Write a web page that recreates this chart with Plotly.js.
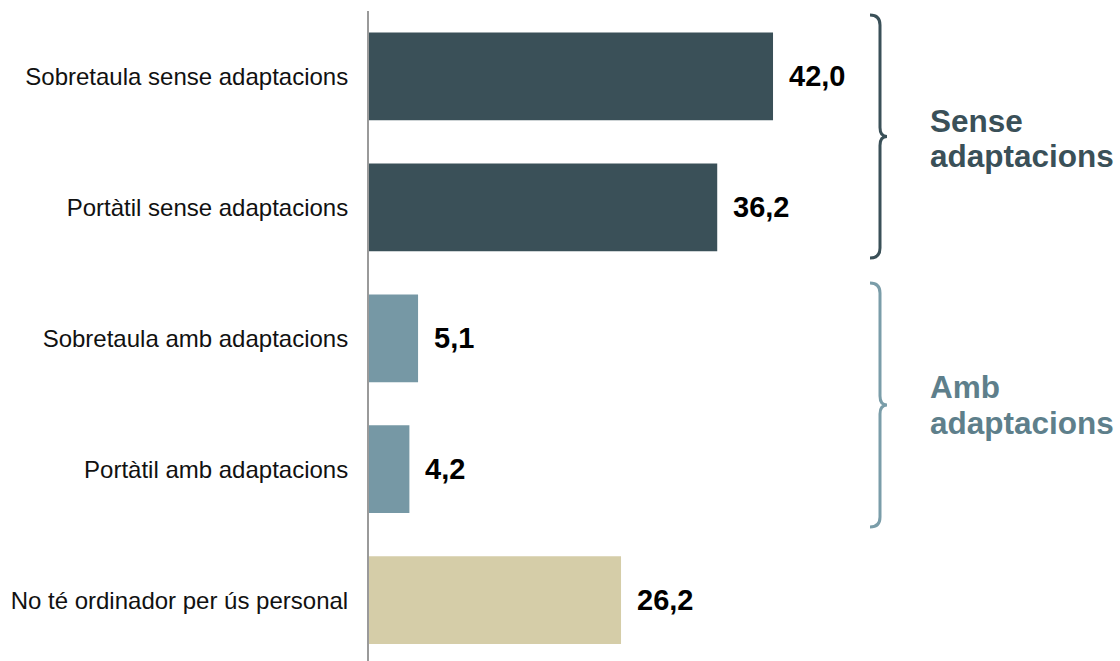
<!DOCTYPE html>
<html>
<head>
<meta charset="utf-8">
<script src="https://cdn.plot.ly/plotly-3.0.1.min.js"></script>
<style>html,body{margin:0;padding:0;background:#fff;}#chart{width:1120px;height:661px;}</style>
</head>
<body>
<div id="chart"></div>
<script>
const categories = [
  "Sobretaula sense adaptacions",
  "Portàtil sense adaptacions",
  "Sobretaula amb adaptacions",
  "Portàtil amb adaptacions",
  "No té ordinador per ús personal"
];
const values = [42.0, 36.2, 5.1, 4.2, 26.2];
const valueLabels = ["42,0", "36,2", "5,1", "4,2", "26,2"];
const barColors = ["#3A5058", "#3A5058", "#7698A5", "#7698A5", "#D5CDA8"];
const groupLines = [["Sense", "adaptacions"], ["Amb", "adaptacions"]];
const groupColors = ["#3A5058", "#5E7F8B"];
const braceColors = ["#3A5058", "#7A9DA9"];

const W = 1120, H = 661, L = 369, T = 11, R = 0, B = 0;
const pw = W - L - R, ph = H - T - B;
const px = x => (x - L) / pw;
const py = y => 1 - (y - T) / ph;
const FONT = "Liberation Sans, Arial, sans-serif";

function brace(top, bottom, xl, xm, xt) {
  const mid = (top + bottom) / 2;
  const p = (x, y) => px(x).toFixed(5) + "," + py(y).toFixed(5);
  return "M" + p(xl, top) +
    " Q" + p(xm, top) + " " + p(xm, top + 10) +
    " L" + p(xm, mid - 9) +
    " Q" + p(xm, mid) + " " + p(xt, mid) +
    " Q" + p(xm, mid) + " " + p(xm, mid + 9) +
    " L" + p(xm, bottom - 10) +
    " Q" + p(xm, bottom) + " " + p(xl, bottom);
}

const trace = {
  type: "bar",
  orientation: "h",
  y: categories,
  x: values,
  marker: { color: barColors, line: { width: 0 } },
  width: 0.67,
  hoverinfo: "none"
};

const annotations = values.map((v, i) => ({
  x: v, y: categories[i], xref: "x", yref: "y",
  text: "<b>" + valueLabels[i] + "</b>", showarrow: false,
  xanchor: "left", yanchor: "middle", xshift: 14,
  font: { family: FONT, size: 29, color: "#000" }
}));
const groupCenters = [[121, 156], [387, 423]];
groupLines.forEach((lines, g) => {
  lines.forEach((t, k) => {
    annotations.push({
      x: px(928), y: py(groupCenters[g][k]), xref: "paper", yref: "paper",
      text: "<b>" + t + "</b>", showarrow: false, align: "left",
      xanchor: "left", yanchor: "middle",
      font: { family: FONT, size: 31.5, color: groupColors[g] }
    });
  });
});

const shapes = [
  { type: "path", xref: "paper", yref: "paper", path: brace(15, 258, 870, 880, 887),
    line: { color: braceColors[0], width: 3 } },
  { type: "path", xref: "paper", yref: "paper", path: brace(283, 527, 870, 880, 887),
    line: { color: braceColors[1], width: 3 } }
];

const layout = {
  width: W, height: H,
  margin: { l: L, r: R, t: T, b: B, pad: 0 },
  paper_bgcolor: "#fff", plot_bgcolor: "#fff",
  showlegend: false,
  xaxis: { range: [0, 78.07], visible: false, showgrid: false, zeroline: false, fixedrange: true },
  yaxis: {
    type: "category", categoryorder: "array", categoryarray: categories,
    range: [4.465, -0.5], showline: true, linecolor: "#9A9A9A", linewidth: 2,
    showgrid: false, zeroline: false, ticks: "", ticklabelstandoff: 14,
    tickfont: { family: FONT, size: 24, color: "#111" },
    fixedrange: true
  },
  annotations: annotations,
  shapes: shapes
};

Plotly.newPlot("chart", [trace], layout, { displayModeBar: false, staticPlot: true });
</script>
</body>
</html>
